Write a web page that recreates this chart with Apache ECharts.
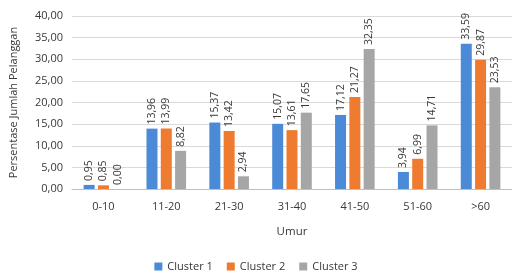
<!DOCTYPE html>
<html><head><meta charset="utf-8">
<script src="https://cdn.jsdelivr.net/npm/echarts@6/dist/echarts.min.js"></script>
<style>html,body{margin:0;padding:0;background:#fff}#c{width:512px;height:279px}</style>
</head><body><div id="c"></div>
<script>
const categories = ['0-10','11-20','21-30','31-40','41-50','51-60','>60'];
const cluster1 = [0.95, 13.96, 15.37, 15.07, 17.12, 3.94, 33.59];
const cluster2 = [0.85, 13.99, 13.42, 13.61, 21.27, 6.99, 29.87];
const cluster3 = [0.00, 8.82, 2.94, 17.65, 32.35, 14.71, 23.53];
const seriesNames = ['Cluster 1','Cluster 2','Cluster 3'];
const colors = ['#4a8ad6','#ee7b30','#a6a6a6'];
const fmt = v => v.toFixed(2).replace('.', ',');
const FONT = 'Open Sans';
const TXT = '#383838';
const chart = echarts.init(document.getElementById('c'));
const mk = (name, data, color) => ({
  name, type: 'bar', data, barWidth: 11, barGap: '30%',
  itemStyle: { color },
  label: { show: true, position: 'top', rotate: 90, align: 'left', verticalAlign: 'middle',
    distance: 4, fontFamily: FONT, fontSize: 10.5, color: TXT,
    formatter: p => fmt(p.value) }
});
chart.setOption({
  animation: false,
  textStyle: { fontFamily: FONT },
  grid: { left: 70, top: 16, width: 446, height: 173, containLabel: false },
  legend: { bottom: 2, left: 'center', itemWidth: 8, itemHeight: 8, itemGap: 14,
    icon: 'rect', textStyle: { fontFamily: FONT, fontSize: 11, color: TXT }, data: seriesNames },
  xAxis: { type: 'category', data: categories, name: 'Umur', nameLocation: 'middle', nameGap: 37,
    nameTextStyle: { fontFamily: FONT, fontSize: 11.5, color: TXT },
    axisTick: { show: false }, axisLine: { lineStyle: { color: '#bfbfbf' } },
    axisLabel: { fontFamily: FONT, fontSize: 11, color: TXT, margin: 12 } },
  yAxis: { type: 'value', min: 0, max: 40, interval: 5,
    name: 'Persentase Jumlah Pelanggan', nameLocation: 'middle', nameGap: 53, nameRotate: 90,
    nameTextStyle: { fontFamily: FONT, fontSize: 11, color: TXT },
    axisLabel: { fontFamily: FONT, fontSize: 11, color: TXT, formatter: v => fmt(v), margin: 9 },
    splitLine: { lineStyle: { color: '#d9d9d9' } }, axisLine: { show: false } },
  series: [mk(seriesNames[0], cluster1, colors[0]), mk(seriesNames[1], cluster2, colors[1]), mk(seriesNames[2], cluster3, colors[2])]
});
</script></body></html>
